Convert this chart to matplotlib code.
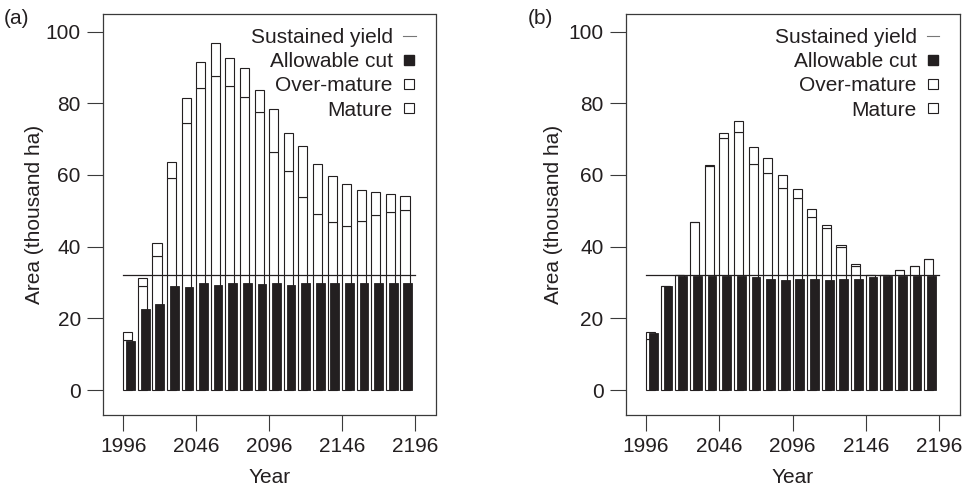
import numpy as np
import matplotlib
matplotlib.use("Agg")
import matplotlib.pyplot as plt
from matplotlib.lines import Line2D

plt.rcParams['font.family'] = ['Liberation Sans', 'DejaVu Sans']

years = np.arange(1996, 2196, 10)
tick_years = [1996, 2046, 2096, 2146, 2196]
sustained_yield = 32.0

# Panel (a)
mature_a = [14.0, 29.0, 37.4, 59.1, 74.6, 84.2, 87.7, 84.7, 81.7, 77.5,
            66.5, 61.2, 53.8, 49.1, 47.0, 45.8, 47.3, 48.8, 49.7, 50.2]
total_a = [16.3, 31.4, 40.9, 63.5, 81.4, 91.6, 96.7, 92.6, 89.8, 83.8,
           78.3, 71.6, 68.1, 63.0, 59.7, 57.4, 55.8, 55.3, 54.7, 54.1]
cut_a = [13.7, 22.5, 23.9, 29.1, 28.7, 30.0, 29.4, 29.8, 30.0, 29.7,
         29.8, 29.4, 29.8, 29.8, 29.8, 30.0, 30.0, 30.0, 29.8, 29.8]

# Panel (b)
mature_b = [14.3, 29.0, 32.1, 47.0, 62.6, 70.3, 72.1, 63.0, 60.5, 56.5,
            53.5, 48.2, 45.1, 39.8, 34.6, 32.0, 32.0, 33.5, 34.7, 36.7]
total_b = [16.2, 29.0, 32.1, 47.0, 62.9, 71.6, 75.1, 67.7, 64.7, 60.0,
           56.1, 50.6, 46.0, 40.6, 35.2, 32.0, 32.0, 33.5, 34.7, 36.7]
cut_b = [16.0, 28.9, 31.9, 31.9, 31.9, 31.9, 31.9, 31.6, 31.1, 30.8,
         31.0, 31.0, 30.8, 31.0, 31.0, 31.5, 31.7, 31.9, 31.9, 31.9]

labels = ["Sustained yield", "Allowable cut", "Over-mature", "Mature"]

W, H = 963, 490
fig = plt.figure(figsize=(W / 100, H / 100), dpi=100)

dark = '#231f20'
frame = '#3a3a3a'

def panel(rect, mature, total, cut, tag, tagx, ylabpad):
    ax = fig.add_axes(rect)
    mature = np.array(mature)
    over = np.array(total) - mature
    ax.bar(years, mature, width=6.2, align='edge', color='white',
           edgecolor=dark, linewidth=0.8, zorder=2)
    ax.bar(years, over, bottom=mature, width=6.2, align='edge', color='white',
           edgecolor=dark, linewidth=0.8, zorder=2)
    ax.bar(years + 2, cut, width=6.0, align='edge', color=dark,
           edgecolor=dark, linewidth=0.6, zorder=3)
    ax.plot([1996, 2196], [sustained_yield, sustained_yield], color=dark,
            linewidth=0.9, zorder=4)
    ax.set_xlim(1982.1, 2210.0)
    ax.set_ylim(-6.8, 104.9)
    ax.set_xticks(tick_years)
    ax.set_xticklabels([str(y) for y in tick_years])
    ax.set_yticks([0, 20, 40, 60, 80, 100])
    ax.tick_params(direction='out', length=11.5, width=0.8, color=frame,
                   labelsize=15, pad=4.5, labelcolor=dark)
    for s in ax.spines.values():
        s.set_color(frame)
        s.set_linewidth(0.9)
    ax.set_xlabel("Year", fontsize=15, labelpad=9, color=dark)
    ax.set_ylabel("Area (thousand ha)", fontsize=15, labelpad=ylabpad, color=dark)
    handles = [
        Line2D([], [], color='#777777', linewidth=0.8),
        Line2D([], [], marker='s', linestyle='none', markersize=7,
               markerfacecolor=dark, markeredgecolor=dark),
        Line2D([], [], marker='s', linestyle='none', markersize=7,
               markerfacecolor='white', markeredgecolor=dark, markeredgewidth=0.8),
        Line2D([], [], marker='s', linestyle='none', markersize=7,
               markerfacecolor='white', markeredgecolor=dark, markeredgewidth=0.8),
    ]
    leg = ax.legend(handles, labels, loc='upper right', bbox_to_anchor=(0.94, 0.965),
                    frameon=False, markerfirst=False, fontsize=15,
                    handlelength=0.6, handletextpad=0.5, labelspacing=0.25,
                    borderpad=0, borderaxespad=0)
    for t in leg.get_texts():
        t.set_color(dark)
    fig.text(tagx / W, 1 - 18 / H, tag, fontsize=15, va='center', ha='left', color=dark)
    return ax

panel([103 / W, 1 - 414.5 / H, (435.5 - 103) / W, (414.5 - 14) / H],
      mature_a, total_a, cut_a, "(a)", 4, 1)
panel([625.7 / W, 1 - 414.5 / H, (959.5 - 625.7) / W, (414.5 - 14) / H],
      mature_b, total_b, cut_b, "(b)", 528, 4)

fig.savefig("out.png", dpi=100)
